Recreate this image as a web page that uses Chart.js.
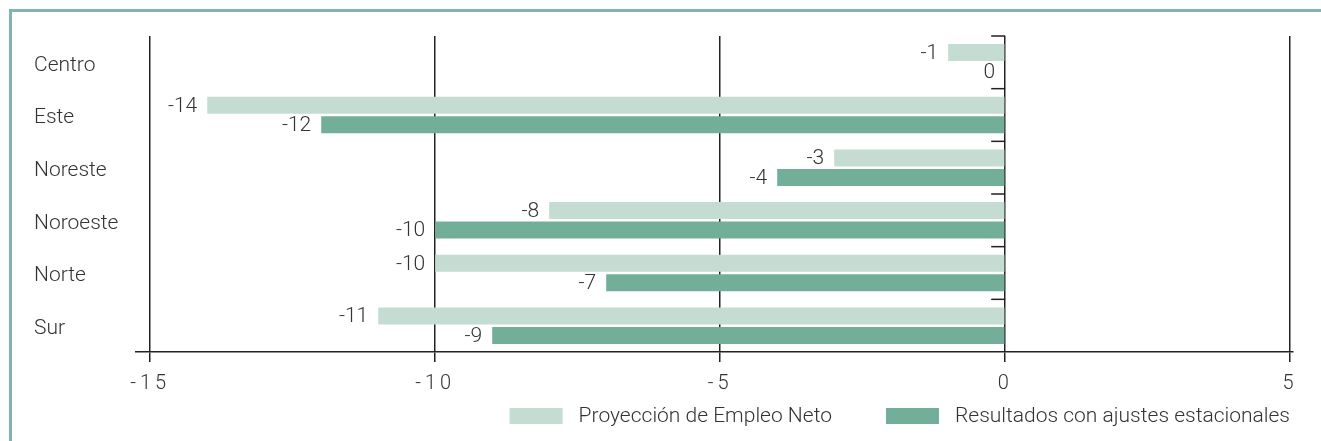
<!DOCTYPE html>
<html>
<head>
<meta charset="utf-8">
<script src="https://cdn.jsdelivr.net/npm/chart.js@4/dist/chart.umd.min.js"></script>
<style>
  html, body { margin: 0; padding: 0; background: #fff; overflow: hidden; }
  #wrap { position: relative; width: 1321px; height: 441px; }
  #frame { position: absolute; left: 9px; top: 9px; right: 0; bottom: 0;
           border-top: 3px solid #7cb6ae; border-left: 3px solid #7cb6ae; pointer-events: none; }
  canvas { position: absolute; left: 0; top: 0; }
</style>
</head>
<body>
<div id="wrap">
  <canvas id="c" width="1321" height="441"></canvas>
  <div id="frame"></div>
</div>
<script>
const categories = ["Centro", "Este", "Noreste", "Noroeste", "Norte", "Sur"];
const proyeccion = [-1, -14, -3, -8, -10, -11];
const ajustados = [0, -12, -4, -10, -7, -9];
const seriesNames = ["Proyección de Empleo Neto", "Resultados con ajustes estacionales"];
const xTicks = [-15, -10, -5, 0, 5];

const FONT = "Roboto, 'Liberation Sans', Arial, sans-serif";
const TEXT = "#333333";

class SpacedLinear extends Chart.LinearScale {
  drawLabels(area) {
    const ctx = this.ctx;
    ctx.save();
    if ("letterSpacing" in ctx) ctx.letterSpacing = "4px";
    super.drawLabels(area);
    ctx.restore();
  }
}
SpacedLinear.id = "spacedLinear";
SpacedLinear.defaults = Chart.LinearScale.defaults;

class ShiftedCategory extends Chart.CategoryScale {
  drawLabels(area) {
    const ctx = this.ctx;
    ctx.save();
    ctx.translate(0, 3);
    super.drawLabels(area);
    ctx.restore();
  }
}
ShiftedCategory.id = "shiftedCategory";
ShiftedCategory.defaults = Chart.CategoryScale.defaults;
Chart.register(SpacedLinear, ShiftedCategory);

const valueLabels = {
  id: "valueLabels",
  afterDatasetsDraw(chart) {
    const ctx = chart.ctx;
    ctx.save();
    ctx.font = "300 21px " + FONT;
    ctx.fillStyle = TEXT;
    ctx.textAlign = "right";
    ctx.textBaseline = "middle";
    chart.data.datasets.forEach((ds, di) => {
      chart.getDatasetMeta(di).data.forEach((bar, i) => {
        const x = Math.min(bar.x, bar.base);
        ctx.fillText(String(ds.data[i]), x - 10, bar.y + 1);
      });
    });
    ctx.restore();
  }
};

const zeroTicks = {
  id: "zeroTicks",
  afterDatasetsDraw(chart) {
    const xs = chart.scales.x, ys = chart.scales.y;
    const x0 = xs.getPixelForValue(0);
    const ctx = chart.ctx;
    ctx.save();
    ctx.strokeStyle = "#222";
    ctx.lineWidth = 1.5;
    for (let i = 0; i < categories.length; i++) {
      const y = i === 0 ? chart.chartArea.top
        : (ys.getPixelForValue(i - 1) + ys.getPixelForValue(i)) / 2;
      ctx.beginPath();
      ctx.moveTo(x0 - 14, y);
      ctx.lineTo(x0, y);
      ctx.stroke();
    }
    ctx.restore();
  }
};

const customLegend = {
  id: "customLegend",
  afterDraw(chart) {
    const ctx = chart.ctx;
    ctx.save();
    ctx.font = "300 21px " + FONT;
    ctx.textBaseline = "middle";
    ctx.textAlign = "left";
    const boxW = 53, boxH = 16, gapText = 16, gapItem = 54;
    const cy = 416;
    const items = chart.data.datasets.map(d => ({ text: d.label, color: d.backgroundColor, w: ctx.measureText(d.label).width }));
    let total = 0;
    items.forEach((it, i) => { total += boxW + gapText + it.w + (i ? gapItem : 0); });
    let x = chart.chartArea.right - 3 - total;
    items.forEach((it, i) => {
      if (i) x += gapItem;
      ctx.fillStyle = it.color;
      ctx.fillRect(x, cy - boxH / 2, boxW, boxH);
      x += boxW + gapText;
      ctx.fillStyle = TEXT;
      ctx.fillText(it.text, x, cy + 1);
      x += it.w;
    });
    ctx.restore();
  }
};

new Chart(document.getElementById("c"), {
  type: "bar",
  data: {
    labels: categories,
    datasets: [
      { label: seriesNames[0], data: proyeccion, backgroundColor: "#c4dcd2", borderWidth: 0,
        categoryPercentage: 0.74, barPercentage: 0.87 },
      { label: seriesNames[1], data: ajustados, backgroundColor: "#73ae99", borderWidth: 0,
        categoryPercentage: 0.74, barPercentage: 0.87 }
    ]
  },
  options: {
    indexAxis: "y",
    responsive: false,
    animation: false,
    layout: { padding: { left: 34, right: 28, top: 36, bottom: 0 } },
    plugins: { legend: { display: false }, tooltip: { enabled: false } },
    scales: {
      x: {
        type: "spacedLinear",
        min: -15.25, max: 5.05,
        afterBuildTicks(axis) { axis.ticks = xTicks.map(v => ({ value: v })); },
        afterFit(axis) { axis.height = 89; },
        grid: { color: "#222", lineWidth: 1.5, drawTicks: true, tickLength: 10, tickColor: "#222" },
        border: { display: true, color: "#222", width: 1.5 },
        ticks: { font: { family: FONT, size: 20, weight: "300" }, color: TEXT, padding: 10 }
      },
      y: {
        type: "shiftedCategory",
        afterFit(axis) { axis.width = 102; },
        grid: { display: false },
        border: { display: false },
        ticks: { font: { family: FONT, size: 21, weight: "300" }, color: TEXT, crossAlign: "far" }
      }
    }
  },
  plugins: [valueLabels, zeroTicks, customLegend]
});
</script>
</body>
</html>
